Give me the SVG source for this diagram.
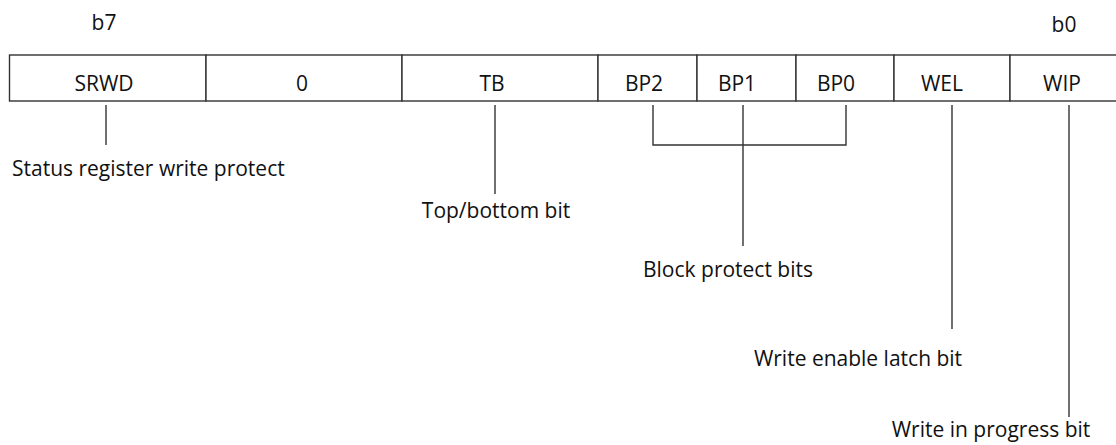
<svg xmlns="http://www.w3.org/2000/svg" width="1116" height="445" viewBox="0 0 1116 445">
<style>
text{font-family:"Open Sans","Noto Sans","DejaVu Sans",sans-serif;font-size:21px;fill:#111}
.c{text-anchor:middle}
.box{fill:#fff;stroke:#333;stroke-width:1.4}
.ln{fill:none;stroke:#333;stroke-width:1.4}
</style>
<rect width="1116" height="445" fill="#fff"/>
<g id="bitlabels">
<text class="c" x="104" y="30">b7</text>
<text class="c" x="1064" y="32">b0</text>
</g>
<g id="register">
<g id="srwd"><rect class="box" x="9.5" y="55" width="196.5" height="46"/><text class="c" x="104" y="91">SRWD</text></g>
<g id="bit6"><rect class="box" x="206" y="55" width="196" height="46"/><text class="c" x="302" y="91">0</text></g>
<g id="tb"><rect class="box" x="402" y="55" width="196" height="46"/><text class="c" x="492" y="91">TB</text></g>
<g id="bp2"><rect class="box" x="598" y="55" width="99" height="46"/><text class="c" x="644" y="91">BP2</text></g>
<g id="bp1"><rect class="box" x="697" y="55" width="99" height="46"/><text class="c" x="737" y="91">BP1</text></g>
<g id="bp0"><rect class="box" x="796" y="55" width="98" height="46"/><text class="c" x="836" y="91">BP0</text></g>
<g id="wel"><rect class="box" x="894" y="55" width="116" height="46"/><text class="c" x="942" y="91">WEL</text></g>
<g id="wip"><rect class="box" x="1010" y="55" width="110" height="46"/><text class="c" x="1062" y="91">WIP</text></g>
</g>
<g id="connectors">
<path class="ln" d="M106,105V145"/>
<path class="ln" d="M495,105V194"/>
<path class="ln" d="M653,105V145H846V105"/>
<path class="ln" d="M743,105V246"/>
<path class="ln" d="M952,105V329"/>
<path class="ln" d="M1069,105V417"/>
</g>
<g id="descriptions">
<text x="12" y="176">Status register write protect</text>
<text class="c" x="496" y="218">Top/bottom bit</text>
<text class="c" x="728" y="277">Block protect bits</text>
<text class="c" x="858" y="366">Write enable latch bit</text>
<text class="c" x="991" y="437">Write in progress bit</text>
</g>
</svg>
